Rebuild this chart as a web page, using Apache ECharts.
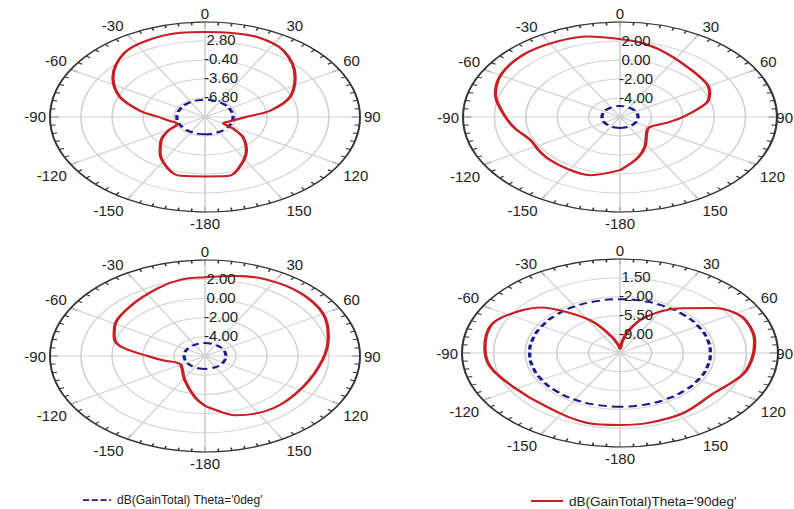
<!DOCTYPE html>
<html><head><meta charset="utf-8">
<script src="https://cdn.jsdelivr.net/npm/echarts@6.0.0/dist/echarts.min.js"></script>
<style>
html,body{margin:0;padding:0;background:#fff;width:794px;height:509px;overflow:hidden;}
.plot{position:absolute;transform-origin:50% 50%;}
#overlay{position:absolute;left:0;top:0;width:794px;height:509px;}
</style></head><body>
<div id="p1" class="plot"></div>
<div id="p2" class="plot"></div>
<div id="p3" class="plot"></div>
<div id="p4" class="plot"></div>
<div id="overlay"></div>
<script>
// ---------- data ----------
const angleLabelValues = [0, 30, 60, 90, 120, 150, -180, -150, -120, -90, -60, -30];
const blueAngles = [-180,-165,-150,-135,-120,-105,-90,-75,-60,-45,-30,-15,0,15,30,45,60,75,90,105,120,135,150,165,180];

const p1Ticks = ['2.80', '-0.40', '-3.60', '-6.80'];
const p1Ang = [-180,-166,-158,-143,-131,-121,-112,-100,-90,-81,-69,-55,-38,-25,-10,0,10,22,36,54,69,81,90,104,119,124,131,143,160,167,180];
const p1Red = [0.0,0.2,-0.3,-2.3,-4.0,-5.6,-6.9,-6.3,-5.2,-3.2,-0.6,1.6,3.6,4.2,4.4,4.3,4.4,4.5,3.8,1.5,-0.6,-3.2,-5.8,-7.2,-7.8,-6.5,-4.8,-2.9,-0.4,0.2,0.0];
const p1Blue = [-7.1,-7.1,-7.1,-7.1,-7.1,-7.1,-7.1,-7.1,-7.1,-7.1,-7.1,-7.1,-7.1,-7.1,-7.1,-7.1,-7.1,-7.1,-7.1,-7.1,-7.1,-7.1,-7.1,-7.1,-7.1];

const p2Ticks = ['2.00', '0.00', '-2.00', '-4.00'];
const p2Ang = [-180,-163,-148,-135,-124,-113,-100,-88,-73,-59,-43,-27,-13,0,8,20,39,57,66,75,90,102,114,123,135,153,166,180];
const p2Red = [-0.4,0.4,0.4,0.35,0.25,0.2,0.8,1.4,2.3,2.8,3.0,2.9,2.7,2.2,2.0,1.5,0.8,0.55,0.25,-0.3,-2.0,-3.0,-3.7,-3.85,-3.6,-2.5,-1.5,-0.4];
const p2Blue = [-4.85,-4.85,-4.85,-4.85,-4.85,-4.85,-4.85,-4.85,-4.85,-4.85,-4.85,-4.85,-4.85,-4.85,-4.85,-4.85,-4.85,-4.85,-4.85,-4.85,-4.85,-4.85,-4.85,-4.85,-4.85];

const p3Ticks = ['2.00', '0.00', '-2.00', '-4.00'];
const p3Ang = [-180,-171,-152,-121,-112,-100,-90,-80,-71,-62,-42,-23,-11,0,14,27,43,60,76,93,117,141,162,170,180];
const p3Red = [-0.8,-1.7,-3.2,-4.2,-4.1,-3.3,-2.3,-0.5,0.2,0.6,1.1,1.7,2.1,2.2,2.6,2.9,3.0,2.8,2.2,1.6,1.1,1.0,0.5,-0.1,-0.8];
const p3Blue = [-4.65,-4.65,-4.65,-4.65,-4.65,-4.65,-4.65,-4.65,-4.65,-4.65,-4.65,-4.65,-4.65,-4.65,-4.65,-4.65,-4.65,-4.65,-4.65,-4.65,-4.65,-4.65,-4.65,-4.65,-4.65];

const p4Ticks = ['1.50', '-2.00', '-5.50', '-9.00'];
const p4Ang = [-180,-164,-141,-118,-100,-86,-71,-61,-46,-38,-27,-17,-7,0,6,11,20,30,39,51,59,67,81,90,106,126,148,167,180];
const p4Red = [0.9,1.0,0.4,0.9,2.1,2.5,2.7,1.9,-0.3,-2.8,-6.0,-9.3,-11.0,-11.7,-10.6,-8.8,-6.0,-3.6,-1.8,0.8,2.2,2.7,2.6,2.3,1.7,0.3,0.7,0.9,0.9];
const p4Blue = [-2.5,-2.5,-2.5,-2.5,-2.5,-2.5,-2.5,-2.5,-2.5,-2.5,-2.5,-2.5,-2.5,-2.5,-2.5,-2.5,-2.5,-2.5,-2.5,-2.5,-2.5,-2.5,-2.5,-2.5,-2.5];

const blueName = "dB(GainTotal) Theta='0deg'";
const redName = "dB(GainTotal)Theta='90deg'";

// ---------- layout / style ----------
const BLUE = '#1b1b8f', RED = '#c81e24', GRID = '#d2d2d2', RING = '#333';
const FONT = 'Liberation Sans, Arial, sans-serif';
const PAGE_W = 794;
const plots = [
  {id:'p1', cx:205, cy:116.5, rx:155, ry:95, min:-10,   max:6, step:3.2, ticks:p1Ticks, ang:p1Ang, red:p1Red, blue:p1Blue},
  {id:'p2', cx:620, cy:117,   rx:157, ry:95, min:-6,    max:4, step:2,   ticks:p2Ticks, ang:p2Ang, red:p2Red, blue:p2Blue},
  {id:'p3', cx:205, cy:356,   rx:155, ry:96, min:-6,    max:4, step:2,   ticks:p3Ticks, ang:p3Ang, red:p3Red, blue:p3Blue},
  {id:'p4', cx:620, cy:353,   rx:158, ry:94, min:-12.5, max:5, step:3.5, ticks:p4Ticks, ang:p4Ang, red:p4Red, blue:p4Blue}
];
const PAD = 10;
const LABEL_SIZE = 15;

const graphics = [];
plots.forEach(p => {
  const S = 2 * (p.ry + PAD);
  const el = document.getElementById(p.id);
  el.style.width = S + 'px';
  el.style.height = S + 'px';
  el.style.left = (p.cx - S / 2) + 'px';
  el.style.top = (p.cy - S / 2) + 'px';
  el.style.transform = 'scaleX(' + (p.rx / p.ry) + ')';
  const chart = echarts.init(el, null, {renderer: 'svg'});
  chart.setOption({
    animation: false,
    polar: {center: ['50%', '50%'], radius: p.ry},
    angleAxis: {
      type: 'value', min: -180, max: 180, interval: 30, startAngle: 270, clockwise: true,
      axisLine: {show: true, lineStyle: {color: RING, width: 1.2}},
      axisTick: {show: true, inside: true, length: 5, lineStyle: {color: RING, width: 1}},
      minorTick: {show: true, splitNumber: 6, length: 3, lineStyle: {color: RING, width: 1}},
      axisLabel: {show: false},
      splitLine: {show: true, lineStyle: {color: GRID, width: 1}}
    },
    radiusAxis: {
      type: 'value', min: p.min, max: p.max, interval: p.step,
      axisLine: {show: false}, axisTick: {show: false}, axisLabel: {show: false},
      splitLine: {show: true, lineStyle: {color: GRID, width: 1}}
    },
    series: [
      {type: 'line', name: blueName, coordinateSystem: 'polar', symbol: 'none', smooth: true,
       data: blueAngles.map((a, i) => [p.blue[i], a]),
       lineStyle: {color: BLUE, width: 2, type: [5, 3]}},
      {type: 'line', name: redName, coordinateSystem: 'polar', symbol: 'none', smooth: 0.35,
       data: p.ang.map((a, i) => [p.red[i], a]),
       lineStyle: {color: RED, width: 2}}
    ]
  });

  // angle labels, just outside the elliptical ring
  angleLabelValues.forEach(v => {
    const t = v * Math.PI / 180, s = Math.sin(t), c = Math.cos(t);
    const gap = 4;
    let x = p.cx + s * p.rx + (s > 0.1 ? gap : s < -0.1 ? -gap : 0);
    const y = p.cy - c * p.ry + (c > 0.1 ? -1 : c < -0.1 ? gap : 0);
    let align = s > 0.1 ? 'left' : s < -0.1 ? 'right' : 'center';
    const txt = String(v);
    const w = txt.length * LABEL_SIZE * 0.56;
    if (align === 'left' && x + w > PAGE_W - 1) { x = PAGE_W - 1; align = 'right'; }
    graphics.push({type: 'text', x: x, y: y, silent: true, z: 20, style: {
      text: txt, fill: '#222', fontSize: LABEL_SIZE, fontFamily: FONT, align: align,
      verticalAlign: c > 0.1 ? 'bottom' : c < -0.1 ? 'top' : 'middle'}});
  });
  // radial tick labels
  p.ticks.forEach(tk => {
    const v = parseFloat(tk);
    const y = p.cy - p.ry * (v - p.min) / (p.max - p.min) - 1;
    graphics.push({type: 'text', x: p.cx + 16, y: y, silent: true, z: 10, style: {
      text: tk, fill: '#222', fontSize: LABEL_SIZE, fontFamily: FONT, align: 'center', verticalAlign: 'middle'}});
  });
});

const ov = echarts.init(document.getElementById('overlay'), null, {renderer: 'svg'});
const dashIcon = 'path://M0,0h7v2h-7z M10,0h7v2h-7z M20,0h7v2h-7z M30,0h2v2h-2z';
const lineIcon = 'path://M0,0h32v2h-32z';
ov.setOption({
  animation: false,
  grid: {show: false, left: 0, top: 0, width: 1, height: 1},
  xAxis: {type: 'value', show: false}, yAxis: {type: 'value', show: false},
  legend: [
    {data: [{name: blueName, icon: dashIcon}], left: 78, top: 489, itemWidth: 28, itemHeight: 2, itemGap: 0,
     textStyle: {color: '#222', fontSize: 12, fontFamily: FONT, padding: [0, 0, 0, 1]}},
    {data: [{name: redName, icon: lineIcon}], left: 526, top: 489, itemWidth: 32, itemHeight: 2, itemGap: 0,
     textStyle: {color: '#222', fontSize: 13.5, fontFamily: FONT, padding: [0, 0, 0, 1]}}
  ],
  series: [
    {type: 'line', name: blueName, data: [], symbol: 'none', lineStyle: {color: BLUE, width: 2, type: [5, 3]}, itemStyle: {color: BLUE}},
    {type: 'line', name: redName, data: [], symbol: 'none', lineStyle: {color: RED, width: 2}, itemStyle: {color: RED}}
  ],
  graphic: graphics
});
</script>
</body></html>
